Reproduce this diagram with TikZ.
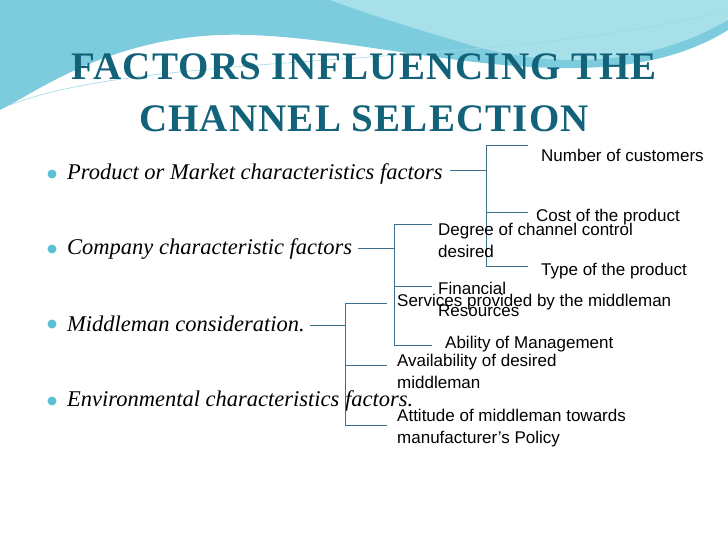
\documentclass[tikz,border=0pt]{standalone}
\usepackage{fontspec}
\setmainfont{Liberation Serif}
\setsansfont{Liberation Sans}
\usetikzlibrary{positioning}
\definecolor{titleblue}{HTML}{12627A}
\definecolor{linkblue}{HTML}{3C6E8E}
\definecolor{wave}{HTML}{5BBFD6}
\definecolor{wavelight}{HTML}{A8E0EA}
\tikzset{
  item/.style={anchor=west,inner sep=0pt,font=\fontsize{22.5}{24}\selectfont\itshape},
  leaf/.style={anchor=north west,inner sep=0pt,align=left,font=\sffamily\fontsize{17}{22}\selectfont},
  link/.style={draw=linkblue,line width=0.8pt}
}
\begin{document}
\begin{tikzpicture}[x=1pt,y=-1pt]
\useasboundingbox (0,0) rectangle (728,546);
\fill[white] (0,0) rectangle (728,546);
% top waves
\fill[wave!80] (0,0) -- (728,0) -- (728,30) .. controls (600,110) and (400,40) .. (250,35)
  .. controls (120,30) and (40,90) .. (0,110) -- cycle;
\fill[wavelight] (330,0) -- (728,0) -- (728,20) .. controls (650,65) and (560,70) .. (470,45)
  .. controls (420,30) and (370,15) .. (330,0) -- cycle;
\draw[wave!60,line width=0.6pt] (10,105) .. controls (150,50) and (500,70) .. (728,10);
% title
\node[text=titleblue,font=\fontsize{39}{52}\selectfont\bfseries\addfontfeature{LetterSpace=3},align=center] (title) at (364,93)
  {FACTORS INFLUENCING THE\\CHANNEL SELECTION};
% items
\foreach \i/\y/\t in {prod/174/{Product or Market characteristics factors},
  comp/249/{Company characteristic factors},
  midd/324/{Middleman consideration.},
  envi/401/{Environmental characteristics factors.}}{
  \fill[wave] (52,\y) circle (4.5);
  \node[item] (\i) at (67,\y) {\t};
}
% product bracket
\coordinate (pj) at (486,170);
\draw[link] (450,170) -- (pj);
\draw[link] (486,145) -- (486,266);
\foreach \y in {145,212,266} \draw[link] (486,\y) -- (528,\y);
\node[leaf] (ncust) at (541,149) {Number of customers};
\node[leaf] (cost) at (536,209) {Cost of the product};
\node[leaf] (type) at (541,263) {Type of the product};
% company bracket
\draw[link] (358,248) -- (394,248);
\draw[link] (394,224) -- (394,345);
\foreach \y in {224,286,345} \draw[link] (394,\y) -- (432,\y);
\node[leaf] (degree) at (438,223) {Degree of channel control\\desired};
\node[leaf] (fin) at (438,282) {Financial\\Resources};
\node[leaf] (abil) at (445,336) {Ability of Management};
% middleman bracket
\draw[link] (310,325) -- (345,325);
\draw[link] (345,303) -- (345,425);
\foreach \y in {303,365,425} \draw[link] (345,\y) -- (387,\y);
\node[leaf] (serv) at (397,294) {Services provided by the middleman};
\node[leaf] (avail) at (397,354) {Availability of desired\\middleman};
\node[leaf] (att) at (397,409) {Attitude of middleman towards\\manufacturer’s Policy};
\end{tikzpicture}
\end{document}
